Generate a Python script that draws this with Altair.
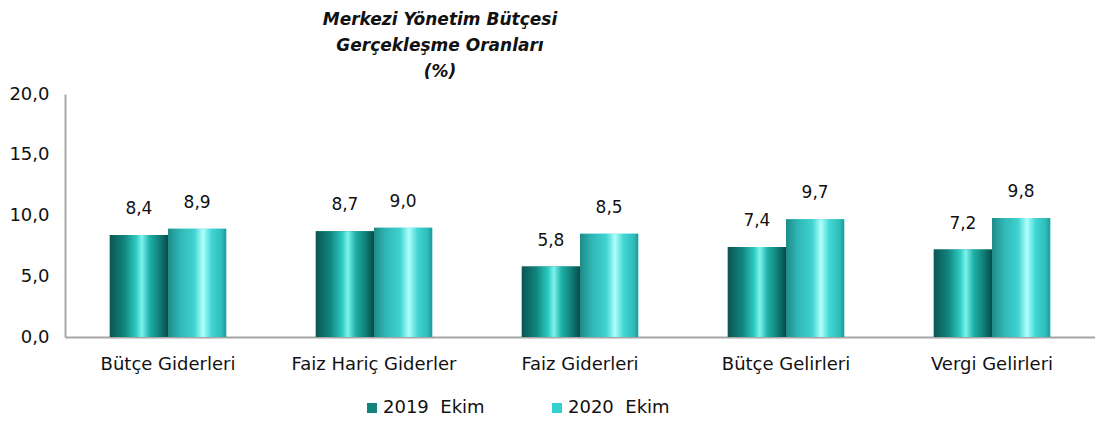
import altair as alt
import pandas as pd

categories = ["Bütçe Giderleri", "Faiz Hariç Giderler", "Faiz Giderleri", "Bütçe Gelirleri", "Vergi Gelirleri"]
series = ["2019\u00a0\u00a0Ekim", "2020\u00a0\u00a0Ekim"]
v2019 = [8.4, 8.7, 5.8, 7.4, 7.2]
v2020 = [8.9, 9.0, 8.5, 9.7, 9.8]
y_ticks = [0, 5, 10, 15, 20]

rows = []
for c, a, b in zip(categories, v2019, v2020):
    rows.append({"cat": c, "series": series[0], "yr": 2019, "value": a, "label": f"{a:.1f}".replace(".", ",")})
    rows.append({"cat": c, "series": series[1], "yr": 2020, "value": b, "label": f"{b:.1f}".replace(".", ",")})
df = pd.DataFrame(rows)

FONT = "DejaVu Sans"

grad2019 = alt.Gradient(gradient="linear", x1=0, x2=1, y1=0, y2=0, stops=[
    alt.GradientStop(color="#0a5552", offset=0),
    alt.GradientStop(color="#11857f", offset=0.25),
    alt.GradientStop(color="#2cc9c0", offset=0.45),
    alt.GradientStop(color="#7ff3ec", offset=0.55),
    alt.GradientStop(color="#1fb3ab", offset=0.68),
    alt.GradientStop(color="#0c6f6a", offset=0.9),
    alt.GradientStop(color="#084a47", offset=1),
])
grad2020 = alt.Gradient(gradient="linear", x1=0, x2=1, y1=0, y2=0, stops=[
    alt.GradientStop(color="#1f8a88", offset=0),
    alt.GradientStop(color="#2fb6b4", offset=0.2),
    alt.GradientStop(color="#3fd2d0", offset=0.45),
    alt.GradientStop(color="#aefffd", offset=0.6),
    alt.GradientStop(color="#40d6d4", offset=0.75),
    alt.GradientStop(color="#2fbcba", offset=0.92),
    alt.GradientStop(color="#1f9896", offset=1),
])

base = alt.Chart(df).encode(
    x=alt.X("cat:N", sort=categories, title=None,
            scale=alt.Scale(paddingInner=0.435, paddingOuter=0.2175),
            axis=alt.Axis(labelAngle=0, ticks=False, domainColor="#a6a6a6", domainWidth=2,
                          labelFontSize=18, labelFont=FONT, labelColor="#111", labelPadding=18)),
    xOffset=alt.XOffset("series:N", scale=alt.Scale(domain=series, paddingInner=0, paddingOuter=0)),
    y=alt.Y("value:Q", title=None,
            scale=alt.Scale(domain=[0, 20], nice=False),
            axis=alt.Axis(values=y_ticks, ticks=False, grid=False, domainColor="#a6a6a6", domainWidth=2,
                          labelFontSize=18, labelFont=FONT, labelColor="#111", labelPadding=16,
                          labelExpr="replace(format(datum.value, '.1f'), '.', ',')")),
)

legend_bars = base.mark_bar().encode(
    color=alt.Color("series:N", scale=alt.Scale(domain=series, range=["#12827c", "#33d1d1"]),
                    legend=alt.Legend(title=None, orient="none", direction="horizontal",
                                      legendX=298, legendY=305, symbolType="square", symbolSize=100,
                                      symbolStrokeWidth=0, labelFontSize=18, labelFont=FONT,
                                      labelColor="#111", columnPadding=63, labelOffset=2,
                                      labelLimit=300))
)
bars19 = base.mark_bar(fill=grad2019).transform_filter(alt.datum.yr == 2019)
bars20 = base.mark_bar(fill=grad2020).transform_filter(alt.datum.yr == 2020)
labels = base.mark_text(baseline="bottom", dy=-17, fontSize=17, font=FONT, color="#111").encode(text="label:N")

chart = alt.layer(legend_bars, bars19, bars20, labels).properties(
    width=1030, height=243,
    padding={"left": 57, "top": 86, "right": 0, "bottom": 84},
    autosize=alt.AutoSizeParams(type="none"),
    title=alt.TitleParams(["Merkezi Yönetim Bütçesi", "Gerçekleşme Oranları", "(%)"],
                          font=FONT, fontSize=17, fontStyle="italic", fontWeight="bold",
                          color="#111", anchor="middle", dx=-140, lineHeight=26, offset=4),
).configure_view(stroke=None)

chart.save("out.html", embed_options={"renderer": "svg", "actions": False})
